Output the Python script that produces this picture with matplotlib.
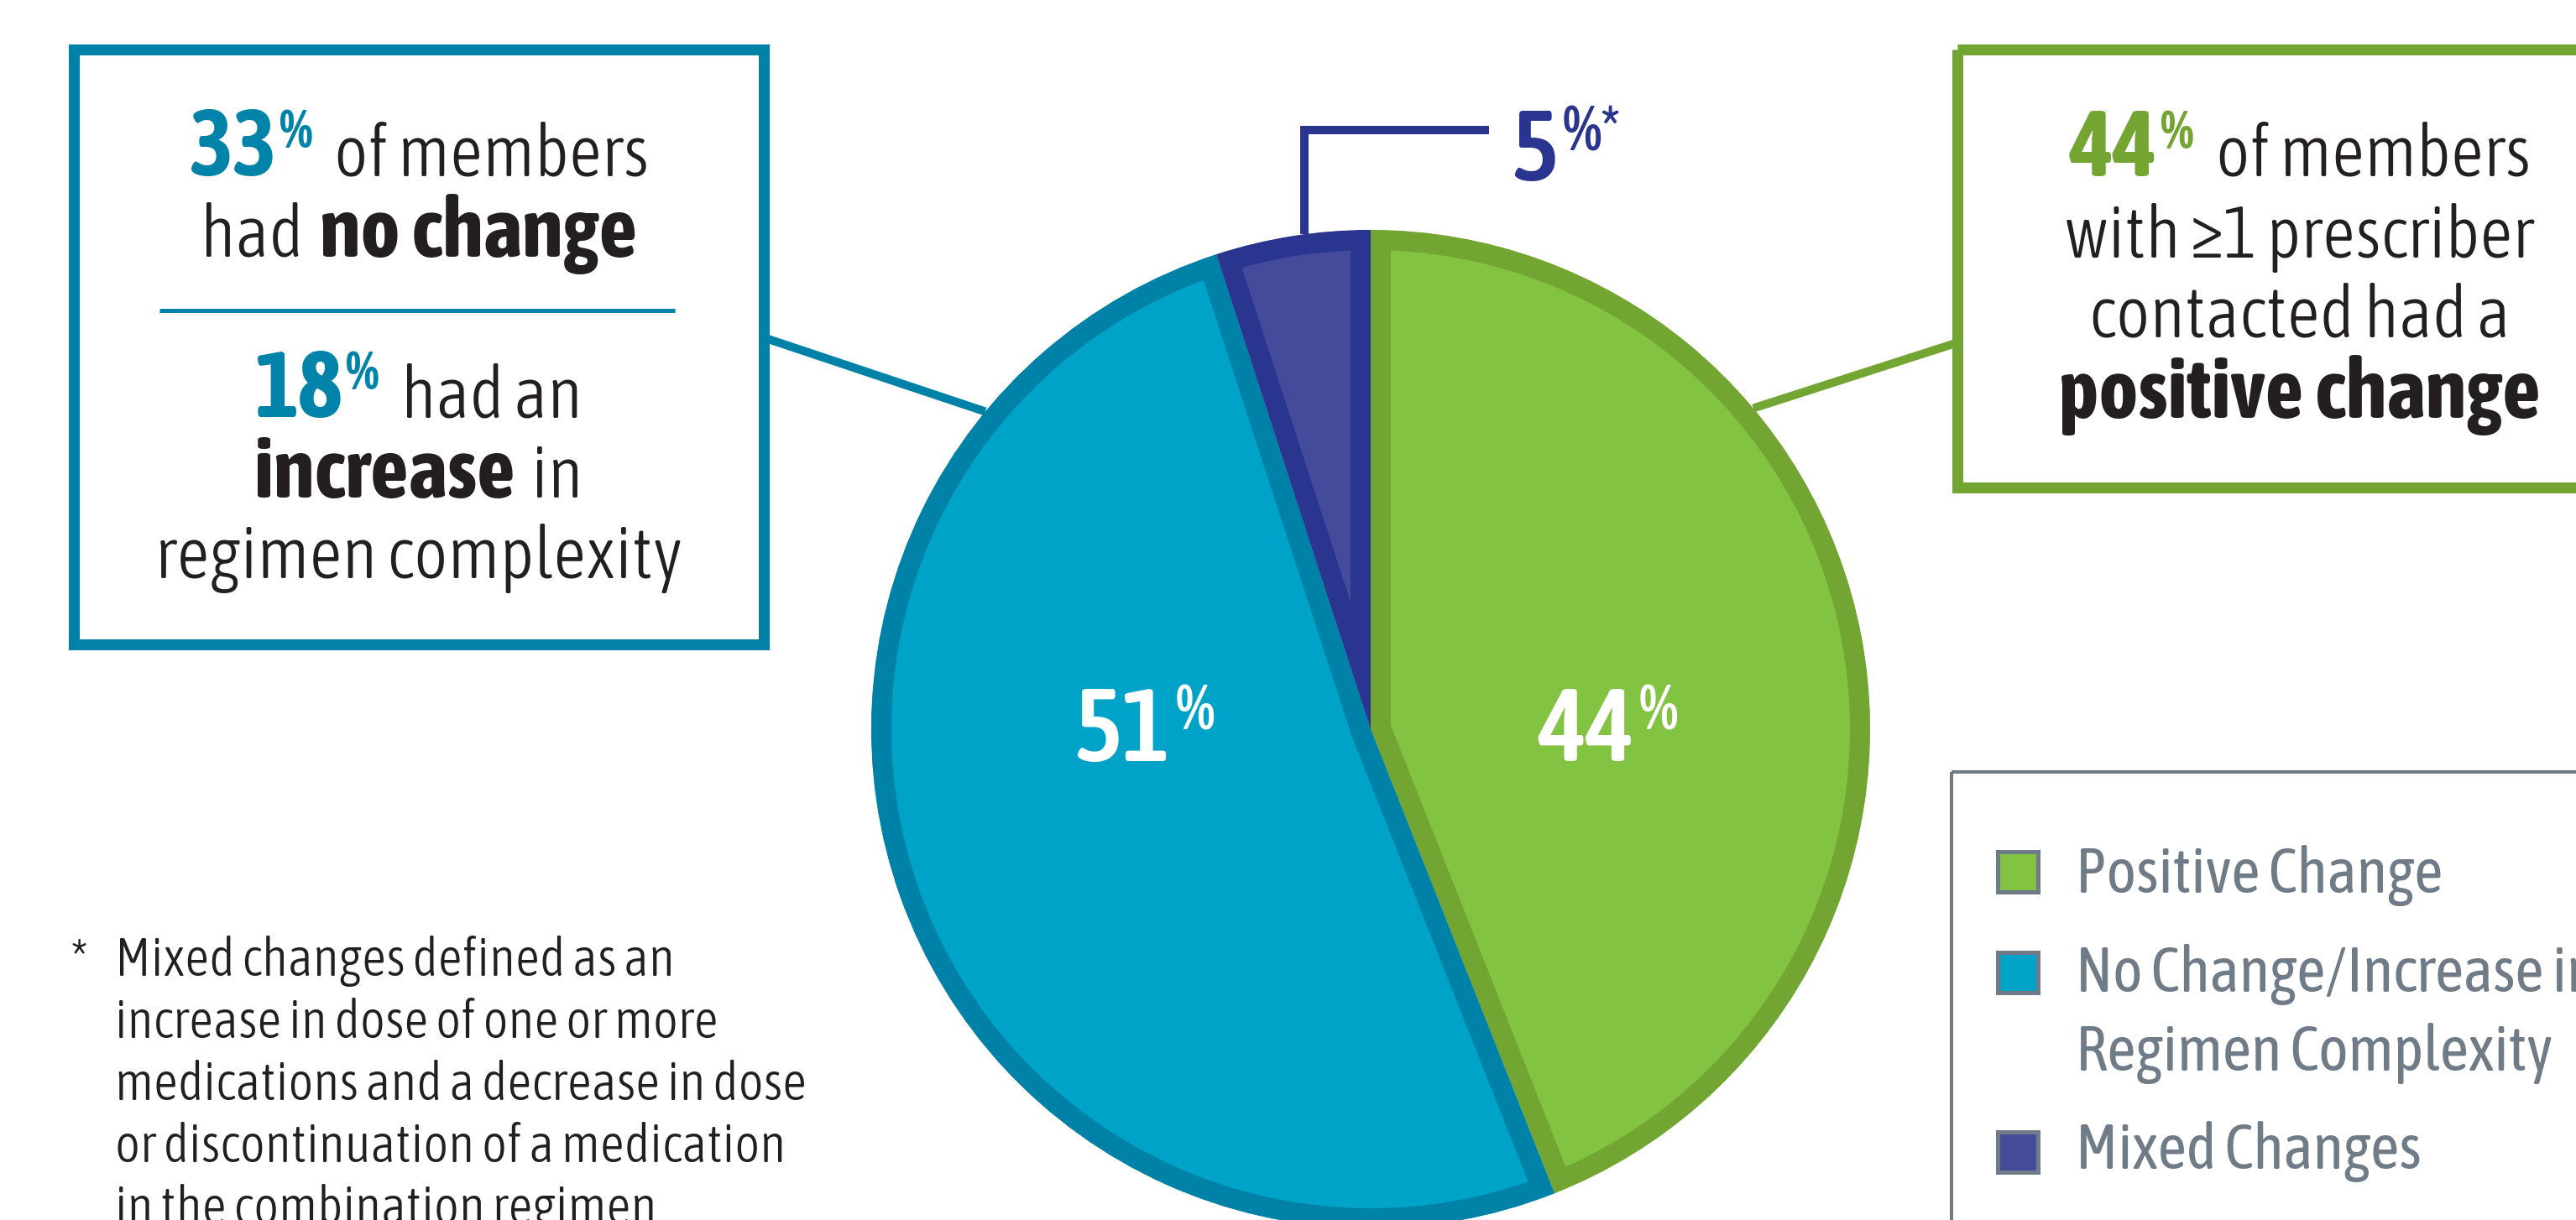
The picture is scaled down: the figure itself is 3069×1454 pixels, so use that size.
import numpy as np
import matplotlib
matplotlib.use('Agg')
import matplotlib.pyplot as plt
from matplotlib.patches import Rectangle

W, H = 3069, 1454
PT = 0.72  # px -> pt at dpi 100

# data
categories = ['Positive Change', 'No Change/Increase in\nRegimen Complexity', 'Mixed Changes']
shares = [44, 51, 5]
no_change_pct = 33
increase_pct = 18
fill_colors = ['#82C341', '#00A3C8', '#444B9B']
edge_colors = ['#73A533', '#0081A7', '#2A3590']
footnote_lines = [
    'Mixed changes defined as an',
    'increase in dose of one or more',
    'medications and a decrease in dose',
    'or discontinuation of a medication',
    'in the combination regimen',
]

FONT = ['Asap Condensed', 'DejaVu Sans']
DARK = '#231F20'
GRAY = '#6F7B86'

fig = plt.figure(figsize=(W / 100, H / 100), dpi=100)
ax = fig.add_axes([0, 0, 1, 1])
rend = fig.canvas.get_renderer()

# pie (y axis is flipped afterwards, so start at -90 and go ccw = clockwise on screen)
CX, CY, R = 1633, 869, 595
wedges, _ = ax.pie(shares, colors=fill_colors, startangle=-90, counterclock=True,
                   center=(CX, CY), radius=R,
                   wedgeprops=dict(linewidth=48 * PT, joinstyle='miter'))
ax.set_xlim(0, W)
ax.set_ylim(H, 0)
ax.set_aspect('auto')
ax.axis('off')
for w, ec in zip(wedges, edge_colors):
    w.set_edgecolor(ec)
    # pie turns clipping off; clip each wedge to itself so only the inner half of the stroke shows
    w.set_clip_on(True)
    w.set_clip_path(w)


def on_circle(a):
    # a: degrees clockwise from top (screen)
    r = np.radians(a)
    return CX + R * np.sin(r), CY - R * np.cos(r)


def put_runs(x, yb, runs, align='center'):
    # runs: (text, size_pt, weight, color, rise_px, pad_px)
    objs = []
    total = 0
    for txt, size, weight, color, rise, pad in runs:
        t = ax.text(0, yb - rise, txt, fontsize=size, fontweight=weight, color=color,
                    family=FONT, fontstretch='condensed', ha='left', va='baseline')
        wpx = t.get_window_extent(rend).width
        objs.append((t, total + pad))
        total += pad + wpx
    x0 = x - total / 2 if align == 'center' else x
    for t, off in objs:
        t.set_x(x0 + off)


# left callout box
BLUE_T = '#0083A9'
ax.add_patch(Rectangle((81 + 6.5, 52 + 6.5), 835 - 13, 722 - 13, fill=False,
                       edgecolor='#0081A7', linewidth=13 * PT, zorder=3))
ax.plot([190, 804], [370, 370], color='#0081A7', lw=5 * PT, solid_capstyle='butt')
bx, by = on_circle(-50.5)
ax.plot([912, bx], [403, by], color='#0081A7', lw=10 * PT, solid_capstyle='butt', zorder=1)

NUM, SUP, TXT, BTXT = 80, 46, 62, 72
put_runs(499, 209, [(str(no_change_pct), NUM, 'bold', BLUE_T, 0, 0),
                    ('%', SUP, 'bold', BLUE_T, 33, 4),
                    ('of members', TXT, 300, DARK, 0, 26)])
put_runs(499, 306, [('had', TXT, 300, DARK, 0, 0),
                    ('no change', BTXT, 'bold', DARK, 0, 20)])
put_runs(499, 497, [(str(increase_pct), NUM, 'bold', BLUE_T, 0, 0),
                    ('%', SUP, 'bold', BLUE_T, 33, 4),
                    ('had an', TXT, 300, DARK, 0, 26)])
put_runs(499, 593, [('increase', BTXT, 'bold', DARK, 0, 0),
                    ('in', TXT, 300, DARK, 0, 20)])
put_runs(499, 689, [('regimen complexity', TXT, 300, DARK, 0, 0)])

# right callout box
GREEN_T = '#74A533'
ax.add_patch(Rectangle((2325 + 6.5, 52 + 6.5), 1000, 535 - 13, fill=False,
                       edgecolor='#73A533', linewidth=13 * PT, zorder=3))
gx, gy = on_circle(50)
ax.plot([gx, 2330], [gy, 409], color='#73A533', lw=10 * PT, solid_capstyle='butt', zorder=1)
put_runs(2740, 210, [(str(shares[0]), NUM, 'bold', GREEN_T, 0, 0),
                     ('%', SUP, 'bold', GREEN_T, 33, 4),
                     ('of members', TXT, 300, DARK, 0, 26)])
put_runs(2740, 307, [('with \u22651 prescriber', TXT, 300, DARK, 0, 0)])
put_runs(2740, 402, [('contacted had a', TXT, 300, DARK, 0, 0)])
put_runs(2740, 498, [('positive change', BTXT, 'bold', DARK, 0, 0)])

# mixed changes bracket + label
NAVY = '#2A3590'
mx, my = on_circle(-7.6)
ax.plot([mx, mx, 1774], [my, 155, 155], color=NAVY, lw=10 * PT,
        solid_joinstyle='miter', solid_capstyle='butt', zorder=1)
put_runs(1800, 215, [(str(shares[2]), 86, 600, NAVY, 0, 0),
                     ('%*', 54, 600, NAVY, 36, 5)], align='left')

# labels inside the pie
put_runs(1916, 907, [(str(shares[0]), 88, 600, 'white', 0, 0),
                     ('%', 54, 600, 'white', 38, 6)])
put_runs(1363, 907, [(str(shares[1]), 88, 600, 'white', 0, 0),
                     ('%', 54, 600, 'white', 38, 6)])

# legend
ax.add_patch(Rectangle((2325, 920), 1000, 800, fill=False, edgecolor=GRAY, linewidth=4 * PT))
marker_tops = [1013, 1133, 1347]
text_bases = [1064, 1182, 1393]
for cat, col, top, base in zip(categories, fill_colors, marker_tops, text_bases):
    ax.add_patch(Rectangle((2380, top + 2), 48, 48, facecolor=col, edgecolor=GRAY,
                           linewidth=5 * PT))
    for i, ln in enumerate(cat.split('\n')):
        ax.text(2473, base + i * 94, ln, fontsize=54, color=GRAY, family=FONT,
                fontstretch='condensed', ha='left', va='baseline')

# footnote
ax.text(84, 1163, '*', fontsize=46, color=DARK, family=FONT, fontweight=300,
        ha='left', va='baseline')
for i, ln in enumerate(footnote_lines):
    ax.text(137, 1163 + i * 74, ln, fontsize=46, color=DARK, family=FONT,
            fontweight=300, fontstretch='condensed', ha='left', va='baseline')

fig.savefig('out.png', dpi=100, facecolor='white')
